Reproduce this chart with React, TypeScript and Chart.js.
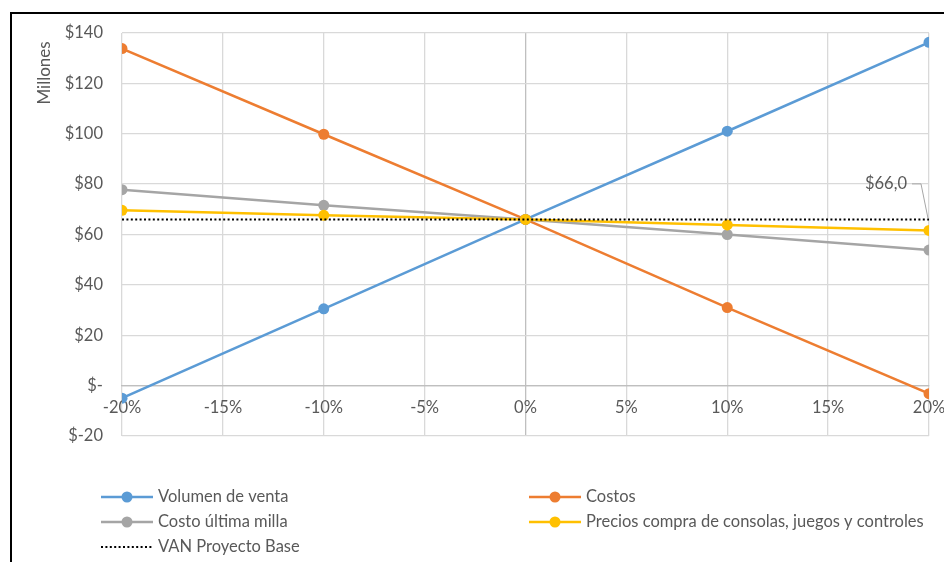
import React, { useEffect, useRef } from "react";
import { Chart, registerables } from "chart.js";

Chart.register(...registerables);

const sensitivities = [-0.2, -0.1, 0, 0.1, 0.2];
const volumenVenta = [-5, 30.5, 66, 101, 136.3];
const costos = [133.8, 99.8, 66, 31, -3.2];
const costoUltimaMilla = [77.8, 71.6, 66, 60, 53.8];
const preciosCompra = [69.6, 67.6, 66, 63.8, 61.6];
const vanBase = [66, 66, 66, 66, 66];

const seriesNames = [
  "Volumen de venta",
  "Costos",
  "Costo última milla",
  "Precios compra de consolas, juegos y controles",
  "VAN Proyecto Base",
];
const seriesColors = ["#5B9BD5", "#ED7D31", "#A5A5A5", "#FFC000", "#000000"];
const yTickLabel = (v: number) => (v === 0 ? "$-" : "$" + v);
const xTickLabel = (v: number) => Math.round(v * 100) + "%";
const vanLabel = "$66,0";

const FONT = "Lato, 'Liberation Sans', sans-serif";
const TEXT = "#595959";
const FS = 16.5;

const pts = (arr: number[]) => sensitivities.map((x, i) => ({ x, y: arr[i] }));

const decorPlugin = {
  id: "decor",
  afterDraw(chart: any) {
    const ctx = chart.ctx;
    ctx.save();
    // outer frame
    ctx.strokeStyle = "#000";
    ctx.lineWidth = 2;
    ctx.beginPath();
    ctx.moveTo(11, 562);
    ctx.lineTo(11, 13);
    ctx.lineTo(944, 13);
    ctx.stroke();

    // y axis title
    ctx.fillStyle = TEXT;
    ctx.font = "17px " + FONT;
    ctx.textAlign = "center";
    ctx.textBaseline = "middle";
    ctx.translate(45, 73);
    ctx.rotate(-Math.PI / 2);
    ctx.fillText("Millones", 0, 0);
    ctx.restore();

    // data label for VAN at last point
    const meta = chart.getDatasetMeta(4);
    const p = meta.data[meta.data.length - 1];
    if (p) {
      ctx.save();
      const lx = p.x - 22;
      const ly = p.y - 36;
      ctx.font = FS + "px " + FONT;
      ctx.fillStyle = TEXT;
      ctx.textAlign = "right";
      ctx.textBaseline = "middle";
      ctx.fillText(vanLabel, lx, ly);
      ctx.strokeStyle = "#A6A6A6";
      ctx.lineWidth = 1;
      ctx.beginPath();
      ctx.moveTo(lx + 5, ly + 0.5);
      ctx.lineTo(lx + 14, ly + 0.5);
      ctx.lineTo(p.x - 1, p.y - 1);
      ctx.stroke();
      ctx.restore();
    }

    // legend
    const slots = [
      { x: 101, y: 497 },
      { x: 529, y: 497 },
      { x: 101, y: 522 },
      { x: 529, y: 522 },
      { x: 101, y: 547 },
    ];
    ctx.save();
    ctx.font = FS + "px " + FONT;
    ctx.textAlign = "left";
    ctx.textBaseline = "middle";
    chart.data.datasets.forEach((ds: any, i: number) => {
      const s = slots[i];
      ctx.strokeStyle = ds.borderColor;
      ctx.lineWidth = i === 4 ? 2 : 2.5;
      ctx.setLineDash(i === 4 ? [2, 2.4] : []);
      ctx.beginPath();
      ctx.moveTo(s.x, s.y);
      ctx.lineTo(s.x + 52, s.y);
      ctx.stroke();
      ctx.setLineDash([]);
      if (i !== 4) {
        ctx.fillStyle = ds.backgroundColor;
        ctx.beginPath();
        ctx.arc(s.x + 26, s.y, 5.5, 0, Math.PI * 2);
        ctx.fill();
      }
      ctx.fillStyle = TEXT;
      ctx.fillText(ds.label, s.x + 57, s.y);
    });
    ctx.restore();
  },
};

export default function App() {
  const ref = useRef<HTMLCanvasElement>(null);
  useEffect(() => {
    document.body.style.margin = "0";
    if (!ref.current) return;
    const arrays = [volumenVenta, costos, costoUltimaMilla, preciosCompra, vanBase];
    const orders = [4, 3, 2, 1, 0];
    const chart = new Chart(ref.current, {
      type: "line",
      data: {
        datasets: arrays.map((arr, i) => ({
          label: seriesNames[i],
          data: pts(arr),
          borderColor: seriesColors[i],
          backgroundColor: seriesColors[i],
          borderWidth: i === 4 ? 2 : 2.5,
          borderDash: i === 4 ? [2, 2.4] : [],
          pointRadius: i === 4 ? 0 : 5.5,
          pointHoverRadius: i === 4 ? 0 : 5.5,
          pointBorderWidth: 0,
          tension: 0,
          order: orders[i],
        })),
      },
      options: {
        responsive: false,
        animation: false,
        layout: { padding: { left: 0, top: 33, right: 0, bottom: 126 } },
        plugins: {
          legend: { display: false },
          tooltip: { enabled: false },
        },
        scales: {
          x: {
            type: "linear",
            position: { y: 0 } as any,
            min: -0.2,
            max: 0.2,
            afterFit: (s: any) => {
              s.height = 0;
              s.paddingRight = 15;
            },
            ticks: {
              stepSize: 0.05,
              callback: (v: any) => xTickLabel(Number(v)),
              color: TEXT,
              font: { family: FONT, size: FS },
              padding: 12,
              maxRotation: 0,
              autoSkip: false,
            },
            grid: {
              drawTicks: false,
              lineWidth: 1.3,
              color: (c: any) =>
                c.tick && Math.abs(c.tick.value) < 1e-9 ? "#BFBFBF" : "#D9D9D9",
            },
            border: { display: true, color: "#BFBFBF", width: 1.3 },
          },
          y: {
            type: "linear",
            position: "left",
            min: -20,
            max: 140,
            afterFit: (s: any) => {
              s.width = 122;
            },
            ticks: {
              stepSize: 20,
              callback: (v: any) => yTickLabel(Number(v)),
              color: TEXT,
              font: { family: FONT, size: FS },
              padding: 19,
            },
            grid: {
              drawTicks: false,
              lineWidth: 1.3,
              color: (c: any) =>
                c.tick && c.tick.value === 0 ? "#BFBFBF" : "#D9D9D9",
            },
            border: { display: false },
          },
        },
      },
      plugins: [decorPlugin],
    });
    return () => chart.destroy();
  }, []);
  return (
    <div style={{ width: 944, height: 562, background: "#fff" }}>
      <canvas ref={ref} width={944} height={562} style={{ display: "block" }} />
    </div>
  );
}
